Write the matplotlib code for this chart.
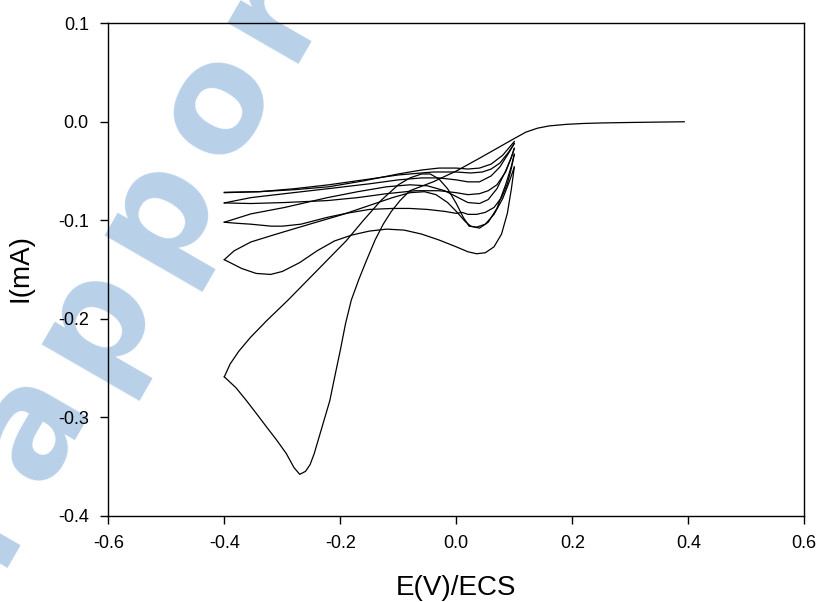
import math
import matplotlib
matplotlib.use("Agg")
import matplotlib.pyplot as plt

plt.rcParams['font.family'] = ['Liberation Sans', 'DejaVu Sans']

# ---- data (E in V vs ECS, I in mA), one list pair per sweep ----
E_c1 = [0.393, 0.35, 0.30, 0.25, 0.22, 0.19, 0.16, 0.14, 0.12, 0.10, 0.07, 0.04, 0.0, -0.04, -0.08,
        -0.097, -0.112, -0.126, -0.14, -0.155, -0.168, -0.181, -0.191, -0.20, -0.21, -0.218, -0.235,
        -0.245, -0.252, -0.26, -0.27, -0.28, -0.293, -0.31, -0.327, -0.345, -0.362, -0.38, -0.40]
I_c1 = [0.0, -0.0003, -0.0007, -0.0012, -0.0017, -0.0026, -0.0042, -0.0065, -0.0105, -0.0170, -0.027,
        -0.037, -0.050, -0.061, -0.070, -0.080, -0.091, -0.104, -0.120, -0.141, -0.160, -0.181, -0.205,
        -0.232, -0.260, -0.283, -0.317, -0.337, -0.348, -0.355, -0.358, -0.351, -0.337, -0.323, -0.310,
        -0.296, -0.283, -0.270, -0.259]

E_a1 = [-0.40, -0.39, -0.375, -0.355, -0.327, -0.29, -0.25, -0.22, -0.19, -0.16, -0.13, -0.10, -0.08,
        -0.06, -0.045, -0.03, -0.015, 0.0, 0.012, 0.022, 0.035, 0.05, 0.065, 0.08, 0.09, 0.10]
I_a1 = [-0.259, -0.246, -0.233, -0.219, -0.202, -0.181, -0.157, -0.139, -0.121, -0.100, -0.080, -0.064,
        -0.057, -0.053, -0.053, -0.058, -0.068, -0.083, -0.097, -0.106, -0.107, -0.104, -0.094, -0.078,
        -0.063, -0.046]

E_c2 = [0.10, 0.095, 0.088, 0.078, 0.065, 0.05, 0.035, 0.02, 0.0, -0.03, -0.06, -0.09, -0.12, -0.15,
        -0.18, -0.21, -0.24, -0.27, -0.30, -0.32, -0.345, -0.37, -0.40]
I_c2 = [-0.046, -0.068, -0.093, -0.114, -0.127, -0.133, -0.134, -0.132, -0.127, -0.120, -0.114, -0.110,
        -0.109, -0.111, -0.115, -0.121, -0.131, -0.143, -0.152, -0.155, -0.154, -0.149, -0.140]

E_a2 = [-0.40, -0.383, -0.354, -0.31, -0.253, -0.195, -0.15, -0.11, -0.08, -0.055, -0.035, -0.015, 0.0,
        0.015, 0.025, 0.04, 0.055, 0.07, 0.085, 0.095, 0.10]
I_a2 = [-0.140, -0.131, -0.122, -0.114, -0.104, -0.094, -0.085, -0.077, -0.072, -0.071, -0.074, -0.082,
        -0.091, -0.101, -0.106, -0.108, -0.102, -0.088, -0.064, -0.045, -0.033]

E_c3 = [0.10, 0.095, 0.088, 0.078, 0.065, 0.05, 0.035, 0.02, 0.01, 0.0, -0.02, -0.05, -0.08, -0.11,
        -0.15, -0.19, -0.222, -0.268, -0.30, -0.319, -0.354, -0.38, -0.40]
I_c3 = [-0.033, -0.047, -0.063, -0.077, -0.087, -0.092, -0.094, -0.094, -0.092, -0.093, -0.091, -0.089,
        -0.088, -0.088, -0.089, -0.093, -0.097, -0.104, -0.106, -0.106, -0.104, -0.103, -0.102]

E_a3 = [-0.40, -0.354, -0.296, -0.222, -0.17, -0.12, -0.08, -0.05, -0.02, 0.0, 0.02, 0.04, 0.055, 0.07,
        0.085, 0.095, 0.10]
I_a3 = [-0.102, -0.0935, -0.087, -0.077, -0.071, -0.066, -0.064, -0.065, -0.070, -0.076, -0.082, -0.083,
        -0.079, -0.068, -0.050, -0.036, -0.027]

E_c4 = [0.10, 0.095, 0.085, 0.07, 0.055, 0.04, 0.02, 0.0, -0.03, -0.07, -0.12, -0.17, -0.222, -0.296,
        -0.354, -0.40]
I_c4 = [-0.027, -0.036, -0.051, -0.064, -0.070, -0.073, -0.074, -0.072, -0.070, -0.070, -0.073, -0.077,
        -0.080, -0.082, -0.083, -0.0824]

E_a4 = [-0.40, -0.354, -0.296, -0.222, -0.15, -0.10, -0.06, -0.03, 0.0, 0.02, 0.04, 0.06, 0.075, 0.09, 0.10]
I_a4 = [-0.0824, -0.077, -0.073, -0.068, -0.063, -0.059, -0.057, -0.057, -0.059, -0.061, -0.061, -0.055,
        -0.046, -0.032, -0.022]

E_c5 = [0.10, 0.09, 0.075, 0.06, 0.045, 0.025, 0.0, -0.04, -0.10, -0.16, -0.22, -0.28, -0.34, -0.40]
I_c5 = [-0.022, -0.031, -0.042, -0.048, -0.051, -0.052, -0.051, -0.051, -0.054, -0.059, -0.064, -0.068,
        -0.071, -0.072]

E_a5 = [-0.40, -0.34, -0.28, -0.22, -0.16, -0.10, -0.06, -0.03, 0.0, 0.02, 0.04, 0.06, 0.08, 0.10]
I_a5 = [-0.0716, -0.071, -0.069, -0.066, -0.060, -0.053, -0.049, -0.047, -0.047, -0.048, -0.047, -0.043,
        -0.034, -0.020]

sweeps = [(E_c1, I_c1), (E_a1, I_a1), (E_c2, I_c2), (E_a2, I_a2), (E_c3, I_c3),
          (E_a3, I_a3), (E_c4, I_c4), (E_a4, I_a4), (E_c5, I_c5), (E_a5, I_a5)]

x_ticks = [-0.6, -0.4, -0.2, 0.0, 0.2, 0.4, 0.6]
x_labels = ['-0.6', '-0.4', '-0.2', '0.0', '0.2', '0.4', '0.6']
y_ticks = [-0.4, -0.3, -0.2, -0.1, 0.0, 0.1]
y_labels = ['-0.4', '-0.3', '-0.2', '-0.1', '0.0', '0.1']

watermark = 'rapport'

W, H = 819, 602
fig = plt.figure(figsize=(W / 100, H / 100), dpi=100)

# watermark letters (behind the axes), spaced along a 60-degree line
ang = math.radians(60)
em_px = 150.0
track = 18.0
adv = {'r': 0.493, 'a': 0.675, 'p': 0.716, 'o': 0.687, 't': 0.478}
centres = [0.0]
for a_ch, b_ch in zip(watermark[:-1], watermark[1:]):
    centres.append(centres[-1] + (adv[a_ch] + adv[b_ch]) / 2 * em_px + track)
ref_idx = 4                      # the 'o'
ox, oy = 214.0, 102.0            # its centre, pixels from top-left
for i, ch in enumerate(watermark):
    d = centres[i] - centres[ref_idx]
    cx = ox + d * math.cos(ang)
    cy = oy - d * math.sin(ang)
    bx = cx + 0.29 * em_px * math.sin(ang)
    by = cy + 0.29 * em_px * math.cos(ang)
    fig.text(bx / W, 1 - by / H, ch, rotation=60, rotation_mode='anchor',
             ha='center', va='baseline', fontsize=em_px * 0.72, fontweight='bold',
             family='DejaVu Sans', color='#b9d0e9', zorder=-5)

ax = fig.add_axes([108.3 / W, 1 - 515.7 / H, (804.3 - 108.3) / W, (515.7 - 23.3) / H])
ax.patch.set_alpha(0)

for E, I in sweeps:
    ax.plot(E, I, color='black', linewidth=0.9)

ax.set_xlim(-0.6, 0.6)
ax.set_ylim(-0.4, 0.1)
ax.set_xticks(x_ticks)
ax.set_xticklabels(x_labels)
ax.set_yticks(y_ticks)
ax.set_yticklabels(y_labels)
ax.tick_params(direction='out', length=6, width=1, labelsize=13, colors='black',
               top=False, right=False)
ax.tick_params(axis='x', pad=8)
ax.tick_params(axis='y', pad=8)
for s in ax.spines.values():
    s.set_linewidth(1.0)

fig.text(456 / W, 1 - 588 / H, 'E(V)/ECS', ha='center', va='center', fontsize=20)
fig.text(21 / W, 1 - 268 / H, 'I(mA)', ha='center', va='center', rotation=90, fontsize=20)

fig.savefig('out.png', dpi=100)
